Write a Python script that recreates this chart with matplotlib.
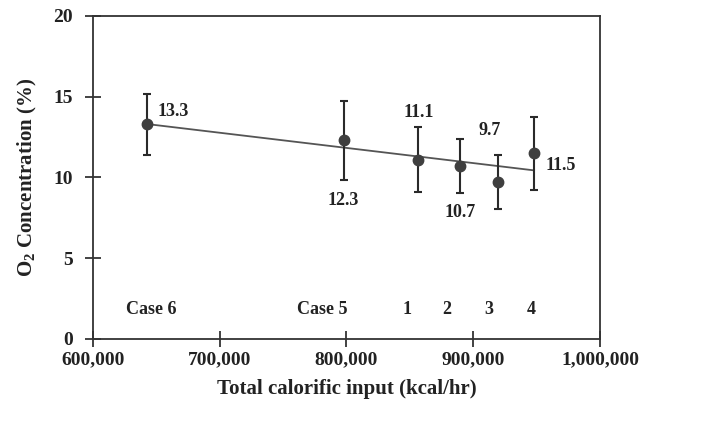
import numpy as np
import matplotlib
matplotlib.use("Agg")
import matplotlib.pyplot as plt
from matplotlib.ticker import FuncFormatter

plt.rcParams['font.family'] = ['Liberation Serif', 'DejaVu Serif']
plt.rcParams['font.weight'] = 'bold'
plt.rcParams['mathtext.default'] = 'regular'

# data
calorific = [642400, 797800, 856700, 889500, 919500, 948000]
o2_conc = [13.3, 12.3, 11.1, 10.7, 9.7, 11.5]
o2_err = [1.9, 2.45, 2.0, 1.67, 1.67, 2.26]
case_names = ["Case 6", "Case 5", "1", "2", "3", "4"]
case_x = [646000, 781000, 847500, 879000, 912000, 945600]
# label placement: (dx, dy) in points and alignment
label_pos = [(8, 9, 'left'), (0, -43, 'center'), (0, 34, 'center'),
             (0, -33, 'center'), (-6, 37, 'center'), (8, -9, 'left')]

fig = plt.figure(figsize=(7.17, 4.24), dpi=100)
ax = fig.add_axes([0.1297, 0.2005, 0.7071, 0.7618])

# linear trend
coef = np.polyfit(calorific, o2_conc, 1)
xfit = np.array([min(calorific), max(calorific)])
ax.plot(xfit, np.polyval(coef, xfit), color='#555555', lw=1.3, zorder=2)

ax.errorbar(calorific, o2_conc, yerr=o2_err, fmt='o', color='#3f3f3f',
            ms=7.5, ecolor='#2a2a2a', elinewidth=1.5, capsize=2.7, capthick=1.5, zorder=3)

for x, y, (dx, dy, ha) in zip(calorific, o2_conc, label_pos):
    ax.annotate(f"{y}", (x, y), xytext=(dx, dy), textcoords='offset points',
                ha=ha, va='center', fontsize=13, fontweight='bold', color='#222222')

for name, x in zip(case_names, case_x):
    ax.text(x, 1.8, name, ha='center', va='center', fontsize=13, fontweight='bold', color='#222222')

ax.set_xlim(600000, 1000000)
ax.set_ylim(0, 20)
ax.set_xticks([600000, 700000, 800000, 900000, 1000000])
ax.set_yticks([0, 5, 10, 15, 20])
ax.xaxis.set_major_formatter(FuncFormatter(lambda v, p: f"{int(v):,}"))
ax.tick_params(direction='inout', length=11, width=1.2, labelsize=14, colors='#222222')
ax.tick_params(axis='x', pad=3)
ax.tick_params(axis='y', pad=9)
for s in ax.spines.values():
    s.set_linewidth(1.3)
    s.set_color('#333333')

ax.set_xlabel("Total calorific input (kcal/hr)", fontsize=15, fontweight='bold', labelpad=8, color='#222222')
ax.set_ylabel("O$_2$ Concentration (%)", fontsize=15, fontweight='bold', labelpad=10, color='#222222')

fig.savefig("out.png", dpi=100)
